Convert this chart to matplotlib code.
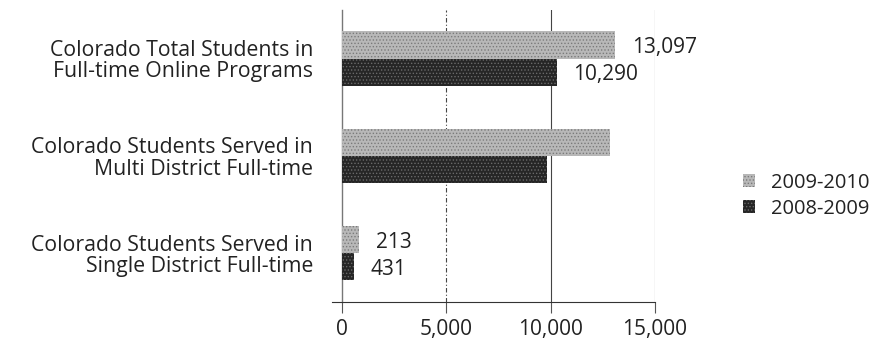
import matplotlib.pyplot as plt
import numpy as np

categories = ["Colorado Total Students in\nFull-time Online Programs",
              "Colorado Students Served in\nMulti District Full-time",
              "Colorado Students Served in\nSingle District Full-time"]
years = ["2009-2010", "2008-2009"]
vals_0910 = [13097, 12850, 810]
vals_0809 = [10290, 9830, 580]
lbl_0910 = ["13,097", "", "213"]
lbl_0809 = ["10,290", "", "431"]
xticks = [0, 5000, 10000, 15000]
xticklabels = ["0", "5,000", "10,000", "15,000"]

plt.rcParams['font.family'] = ['Open Sans', 'DejaVu Sans']
plt.rcParams['hatch.linewidth'] = 0.6

fig = plt.figure(figsize=(8.73, 3.45), dpi=100)
ax = fig.add_axes([0.392, 0.125, 0.358, 0.846])

y = np.arange(len(categories)) + 0.5
h = 0.28
light = ax.barh(y - h / 2, vals_0910, height=h, color='#b8b8b8', hatch='.....',
                edgecolor='#7a7a7a', linewidth=0, label=years[0], zorder=3)
dark = ax.barh(y + h / 2, vals_0809, height=h, color='#262626', hatch='.....',
               edgecolor='#6a6a6a', linewidth=0, label=years[1], zorder=3)

for b, t in zip(light, lbl_0910):
    if t:
        ax.text(b.get_width() + 800, b.get_y() + b.get_height() * 0.6, t,
                va='center', ha='left', fontsize=15, color='#222')
for b, t in zip(dark, lbl_0809):
    if t:
        ax.text(b.get_width() + 800, b.get_y() + b.get_height() * 0.6, t,
                va='center', ha='left', fontsize=15, color='#222')

ax.set_xlim(0, 15000)
ax.set_ylim(3, 0)
ax.set_yticks(y)
ax.set_yticklabels(categories, fontsize=15.3, color='#222', ha='right',
                   linespacing=1.02)
ax.tick_params(axis='y', length=0, pad=21)
ax.set_xticks(xticks)
ax.set_xticklabels(xticklabels, fontsize=15, color='#222')
ax.tick_params(axis='x', length=8, width=0.8, color='#555', pad=4)

# vertical gridlines
ax.axvline(5000, color='#444', lw=0.8, ls=(0, (4, 2, 1, 2)), zorder=1)
ax.axvline(10000, color='#444', lw=0.8, zorder=1)
ax.axvline(15000, color='#666', lw=0.8, zorder=1)

for s in ['top', 'right']:
    ax.spines[s].set_visible(False)
ax.spines['left'].set_color('#777')
ax.spines['left'].set_linewidth(1.0)
ax.spines['bottom'].set_color('#333')
ax.spines['bottom'].set_linewidth(0.8)
ax.spines['bottom'].set_bounds(-500, 15000)

fig.legend(handles=[light, dark], labels=years, loc='center left',
           bbox_to_anchor=(0.851, 0.432), frameon=False, fontsize=14.5,
           borderaxespad=0, borderpad=0,
           handlelength=0.6, handleheight=0.6, handletextpad=0.8,
           labelspacing=0.3, labelcolor='#222')

fig.savefig("out.png", dpi=100, facecolor='white')
